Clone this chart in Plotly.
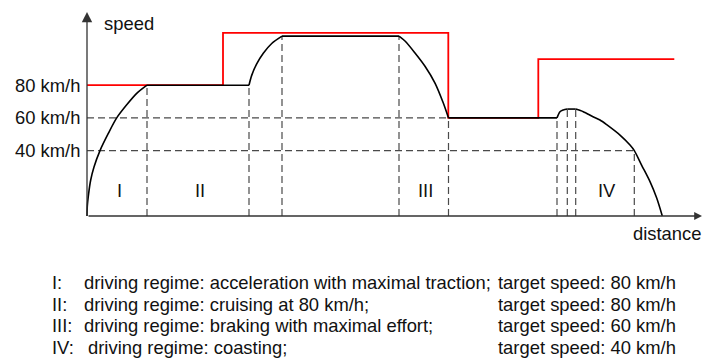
import plotly.graph_objects as go

# ---- speed profile (distance in arbitrary units, speed in km/h) ----
profile_dist = [0, 0.3, 1.7, 3.7, 7, 13, 21.3, 29.7, 39.7, 49.7, 60,
                162, 164.7, 169.7, 176.3, 184.7, 195,
                312, 318, 328, 338, 348, 356.3, 361.5,
                470, 473, 476.3, 480.3, 488.7, 496.3, 506, 513, 520, 533, 543, 547.3,
                554.7, 563, 569.7, 575.3]
profile_speed = [0, 6, 14, 22, 30, 40, 50.5, 60, 68, 75, 80,
                 80, 86, 93, 99.5, 105.5, 110,
                 110, 107, 99.7, 91.6, 81.3, 69.1, 60,
                 60, 63.8, 64.8, 65.4, 65.4, 63.8, 60.7, 58.7, 55.7, 49.5, 43.4, 40,
                 31, 21, 11, 0]

# ---- speed limit (step function) ----
limit_dist = [0, 136, 361.3, 451.3, 587.3]
limit_speed = [80, 112, 60, 96, 96]

# ---- reference speeds on the vertical axis ----
tick_speeds = [80, 60, 40]
tick_labels = ["80 km/h", "60 km/h", "40 km/h"]

# ---- regime boundaries (distance, speed at boundary) ----
boundary_dist = [60, 162, 195, 312, 361.5, 470, 480.3, 488.7, 547.3]
boundary_speed = [80, 80, 110, 110, 60, 60, 65.4, 65.4, 40]

# horizontal guides: speed level and where it stops
guide_speed = [60, 40]
guide_end = [361.5, 547.3]

# ---- regimes ----
regime_names = ["I", "II", "III", "IV"]
regime_start = [0, 60, 312, 488.7]
regime_end = [60, 162, 361.5, 547.3]
regime_desc = ["driving regime: acceleration with maximal traction;",
               "driving regime: cruising at 80 km/h;",
               "driving regime: braking with maximal effort;",
               "driving regime: coasting;"]
regime_target = ["target speed: 80 km/h", "target speed: 80 km/h",
                 "target speed: 60 km/h", "target speed: 40 km/h"]

W, H = 703, 358
FONT = "Liberation Sans, Arial, sans-serif"
FS = 18.4
DASH_COLOR = "#4a4a4a"
DASH = "7px,4px"

fig = go.Figure()

# dashed guides
for x, v in zip(boundary_dist, boundary_speed):
    fig.add_trace(go.Scatter(x=[x, x], y=[0, v], mode="lines",
                             line=dict(color=DASH_COLOR, width=1.2, dash=DASH),
                             hoverinfo="skip", showlegend=False))
for v, xe in zip(guide_speed, guide_end):
    fig.add_trace(go.Scatter(x=[0, xe], y=[v, v], mode="lines",
                             line=dict(color=DASH_COLOR, width=1.2, dash=DASH),
                             hoverinfo="skip", showlegend=False))

# speed limit
fig.add_trace(go.Scatter(x=limit_dist, y=limit_speed, mode="lines",
                         line=dict(color="#ff0000", width=1.8, shape="hv"),
                         hoverinfo="skip", showlegend=False))

# driving profile: constant-speed stretches are straight, the rest is smoothed
runs = []
cur = [0]
for i in range(1, len(profile_dist)):
    flat_prev = len(cur) >= 2 and profile_speed[cur[-1]] == profile_speed[cur[-2]]
    flat_now = profile_speed[i] == profile_speed[i - 1]
    if len(cur) >= 2 and flat_now != flat_prev:
        runs.append(cur)
        cur = [i - 1]
    cur.append(i)
runs.append(cur)

for run in runs:
    xs = [profile_dist[k] for k in run]
    ys = [profile_speed[k] for k in run]
    flat = len(set(ys)) == 1
    fig.add_trace(go.Scatter(
        x=xs, y=ys, mode="lines",
        line=dict(color="#000000", width=1.6,
                  shape="linear" if flat else "spline", smoothing=0.8),
        hoverinfo="skip", showlegend=False))

annotations = []

# axes with arrowheads
annotations.append(dict(x=0, y=124.8, ax=0, ay=0, xref="x", yref="y", axref="x", ayref="y",
                        text="", showarrow=True, arrowhead=2, arrowsize=1.6,
                        arrowwidth=1.3, arrowcolor="#333333", standoff=0))
annotations.append(dict(x=615, y=0, ax=0, ay=0, xref="x", yref="y", axref="x", ayref="y",
                        text="", showarrow=True, arrowhead=2, arrowsize=1.2,
                        arrowwidth=1.3, arrowcolor="#333333", standoff=0))

annotations.append(dict(x=15, y=117.5, xref="x", yref="y", text="speed", showarrow=False,
                        xanchor="left", yanchor="middle", font=dict(size=FS, color="#111")))
annotations.append(dict(x=580, y=-11, xref="x", yref="y", text="distance", showarrow=False,
                        xanchor="center", yanchor="middle", font=dict(size=FS, color="#111")))

for v, t in zip(tick_speeds, tick_labels):
    annotations.append(dict(x=-5, y=v, xref="x", yref="y", text=t, showarrow=False,
                            xanchor="right", yanchor="middle", font=dict(size=FS, color="#111")))

for name, s, e in zip(regime_names, regime_start, regime_end):
    annotations.append(dict(x=(s + e) / 2 + 2, y=15.3, xref="x", yref="y", text=name,
                            showarrow=False, xanchor="center", yanchor="middle",
                            font=dict(size=FS, color="#111")))

# explanatory lines below the chart
row_px = [282, 304, 325.7, 347]
desc_px = [82, 82, 82, 86]
for i, (name, desc, tgt) in enumerate(zip(regime_names, regime_desc, regime_target)):
    yp = 1 - row_px[i] / H
    annotations.append(dict(x=50 / W, y=yp, xref="paper", yref="paper", text=name + ":",
                            showarrow=False, xanchor="left", yanchor="middle",
                            font=dict(size=FS, color="#111")))
    annotations.append(dict(x=desc_px[i] / W, y=yp, xref="paper", yref="paper", text=desc,
                            showarrow=False, xanchor="left", yanchor="middle",
                            font=dict(size=FS, color="#111")))
    annotations.append(dict(x=496 / W, y=yp, xref="paper", yref="paper", text=tgt,
                            showarrow=False, xanchor="left", yanchor="middle",
                            font=dict(size=FS, color="#111")))

fig.update_layout(
    width=W, height=H,
    margin=dict(l=0, r=0, t=0, b=0),
    paper_bgcolor="white", plot_bgcolor="white",
    font=dict(family=FONT, size=FS, color="#111"),
    xaxis=dict(range=[-87, 616], visible=False, fixedrange=True),
    yaxis=dict(range=[(216 - H) / 1.635, 216 / 1.635], visible=False, fixedrange=True),
    annotations=annotations,
    showlegend=False,
)

fig.write_html("out.html", config={"displayModeBar": False})
